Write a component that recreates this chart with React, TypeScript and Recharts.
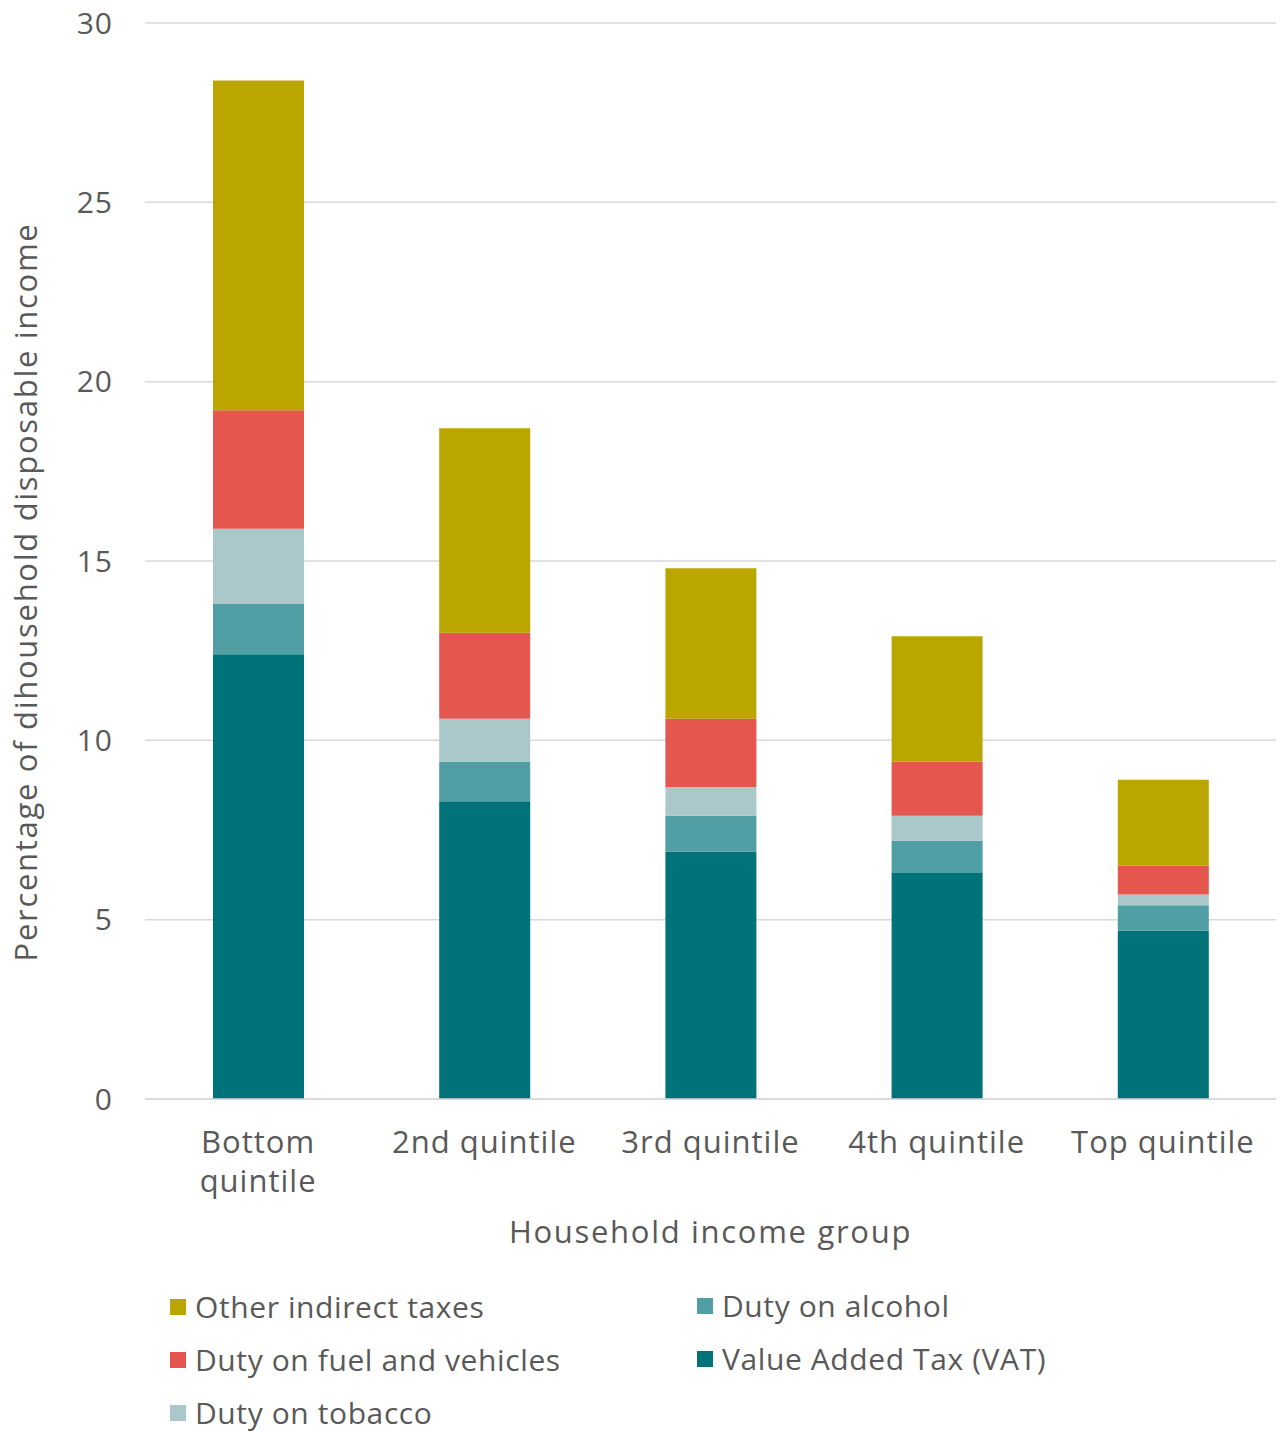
import { Bar, BarChart, CartesianGrid, Label, XAxis, YAxis } from "recharts";

const groups = ["Bottom quintile", "2nd quintile", "3rd quintile", "4th quintile", "Top quintile"];
const vat = [12.4, 8.3, 6.9, 6.3, 4.7];
const alcohol = [1.4, 1.1, 1.0, 0.9, 0.7];
const tobacco = [2.1, 1.2, 0.8, 0.7, 0.3];
const fuel = [3.3, 2.4, 1.9, 1.5, 0.8];
const other = [9.2, 5.7, 4.2, 3.5, 2.4];
const yTicks = [0, 5, 10, 15, 20, 25, 30];

const series = [
  { key: "vat", name: "Value Added Tax (VAT)", color: "#00727A" },
  { key: "alcohol", name: "Duty on alcohol", color: "#4F9FA4" },
  { key: "tobacco", name: "Duty on tobacco", color: "#AAC7CA" },
  { key: "fuel", name: "Duty on fuel and vehicles", color: "#E5564F" },
  { key: "other", name: "Other indirect taxes", color: "#BBA600" },
];

const data = groups.map((g, i) => ({
  group: g,
  vat: vat[i],
  alcohol: alcohol[i],
  tobacco: tobacco[i],
  fuel: fuel[i],
  other: other[i],
}));

const FONT = "'Open Sans', Lato, sans-serif";
const TEXT = "#595959";

const XTick = (props: any) => {
  const { x, y, payload } = props;
  const words: string[] = payload.value === "Bottom quintile" ? ["Bottom", "quintile"] : [payload.value];
  return (
    <text x={x} y={y} textAnchor="middle" fill={TEXT} fontSize={31} letterSpacing={1} fontFamily={FONT}>
      {words.map((w, i) => (
        <tspan key={i} x={x} dy={i === 0 ? 46 : 39}>{w}</tspan>
      ))}
    </text>
  );
};

const legendCol1 = ["other", "fuel", "tobacco"];
const legendCol2 = ["alcohol", "vat"];

export default function App() {
  const legendItem = (k: string, left: number, top: number) => {
    const s = series.find((x) => x.key === k)!;
    return (
      <div key={k} style={{ position: "absolute", left, top, display: "flex", alignItems: "center", whiteSpace: "nowrap" }}>
        <span style={{ width: 16, height: 16, background: s.color, display: "inline-block", marginRight: 9 }} />
        <span style={{ fontSize: 30, letterSpacing: 0.6, color: TEXT, fontFamily: FONT }}>{s.name}</span>
      </div>
    );
  };

  return (
    <div style={{ position: "absolute", left: 0, top: 0, width: 1280, height: 1432, background: "#fff", overflow: "hidden" }}>
      <BarChart
        width={1280}
        height={1260}
        data={data}
        margin={{ top: 23, right: 4, left: 0, bottom: 0 }}
        barSize={91}
      >
        <CartesianGrid vertical={false} stroke="#D9D9D9" strokeWidth={1.5} />
        <XAxis
          dataKey="group"
          height={161}
          axisLine={{ stroke: "#D9D9D9", strokeWidth: 1.5 }}
          tickLine={false}
          tick={<XTick />}
          interval={0}
        >
          <Label
            value="Household income group"
            position="insideBottom"
            offset={17}
            fill={TEXT}
            fontSize={31}
            letterSpacing={1.7}
            fontFamily={FONT}
          />
        </XAxis>
        <YAxis
          width={145}
          domain={[0, 30]}
          ticks={yTicks}
          axisLine={false}
          tickLine={false}
          tickMargin={26}
          tick={{ fill: TEXT, fontSize: 30, letterSpacing: 1, fontFamily: FONT }}
        >
          <Label
            content={() => (
              <text
                x={25}
                y={592}
                transform="rotate(-90 25 592)"
                textAnchor="middle"
                dominantBaseline="central"
                fill={TEXT}
                fontSize={31}
                letterSpacing={1.7}
                fontFamily={FONT}
              >
                Percentage of dihousehold disposable income
              </text>
            )}
          />
        </YAxis>
        {series.map((s) => (
          <Bar key={s.key} dataKey={s.key} name={s.name} stackId="a" fill={s.color} isAnimationActive={false} />
        ))}
      </BarChart>
      {legendCol1.map((k, i) => legendItem(k, 170, 1286 + i * 53))}
      {legendCol2.map((k, i) => legendItem(k, 697, 1285 + i * 53))}
    </div>
  );
}
